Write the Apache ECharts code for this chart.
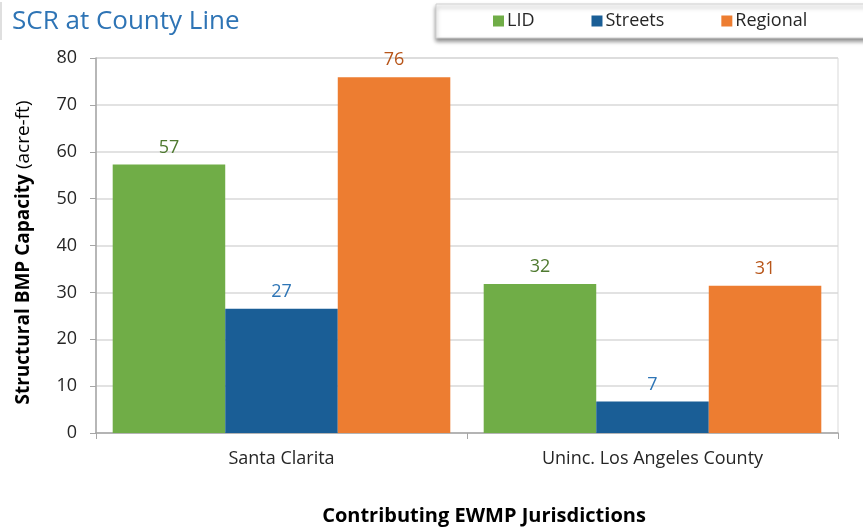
<!DOCTYPE html>
<html>
<head>
<meta charset="utf-8">
<script src="https://cdn.jsdelivr.net/npm/echarts@6/dist/echarts.min.js"></script>
<style>
  html, body { margin: 0; padding: 0; background: #fff; }
  #main { width: 863px; height: 530px; }
</style>
</head>
<body>
<div id="main"></div>
<script>
// data
var categories = ["Santa Clarita", "Uninc. Los Angeles County"];
var lidValues = [57.3, 31.8];
var streetsValues = [26.5, 6.7];
var regionalValues = [75.9, 31.4];
var yTicks = { min: 0, max: 80, interval: 10 };

var FONT = "Open Sans";

var chartDom = document.getElementById("main");
var myChart = echarts.init(chartDom);

function barSeries(name, data, color, labelColor) {
  return {
    name: name,
    type: "bar",
    data: data,
    barGap: "0%",
    barCategoryGap: "9%",
    itemStyle: { color: color },
    label: {
      show: true,
      position: "top",
      distance: 8,
      color: labelColor,
      fontFamily: FONT,
      fontSize: 18,
      formatter: function (p) { return Math.round(p.value); }
    }
  };
}

var option = {
  animation: false,
  textStyle: { fontFamily: FONT },
  title: {
    text: "SCR at County Line",
    left: 12,
    top: 9,
    padding: 0,
    textStyle: { color: "#2E74B5", fontSize: 26, fontWeight: "normal", fontFamily: FONT }
  },
  graphic: [
    {
      type: "rect",
      shape: { x: 436, y: 4, width: 440, height: 34 },
      style: {
        fill: "#fff",
        stroke: "#d0d0d0",
        lineWidth: 1,
        shadowBlur: 4,
        shadowOffsetY: 3,
        shadowColor: "rgba(0,0,0,0.45)"
      },
      z: -1
    },
    {
      type: "line",
      shape: { x1: 1, y1: 2, x2: 1, y2: 40 },
      style: { stroke: "#bfbfbf", lineWidth: 1 }
    }
  ],
  legend: {
    left: 493,
    top: 12,
    padding: 0,
    itemWidth: 11,
    itemHeight: 11,
    itemGap: 57,
    icon: "rect",
    textStyle: { color: "#262626", fontSize: 18, fontFamily: FONT, padding: [0, 0, 0, -2] },
    data: ["LID", "Streets", "Regional"]
  },
  grid: {
    left: 96, right: 25, top: 58, bottom: 97,
    outerBoundsMode: "none",
    containLabel: false,
    show: true, borderColor: "#d9d9d9", borderWidth: 1
  },
  xAxis: {
    type: "category",
    data: categories,
    name: "Contributing EWMP Jurisdictions",
    nameLocation: "middle",
    nameGap: 73,
    nameTextStyle: { color: "#000", fontSize: 20, fontWeight: "bold", fontFamily: FONT, padding: [0, 0, 0, 34] },
    axisLine: { lineStyle: { color: "#a6a6a6", width: 1.5 } },
    axisTick: { show: true, length: 6, lineStyle: { color: "#a6a6a6" } },
    axisLabel: { color: "#262626", fontSize: 18, margin: 17, fontFamily: FONT }
  },
  yAxis: {
    type: "value",
    min: yTicks.min,
    max: yTicks.max,
    interval: yTicks.interval,
    name: "{b|Structural BMP Capacity}{n|(acre-ft)}",
    nameLocation: "middle",
    nameGap: 63,
    nameRotate: 90,
    nameTextStyle: {
      padding: [0, 14, 0, 0],
      rich: {
        b: { fontSize: 19, fontWeight: "bold", color: "#000", fontFamily: FONT },
        n: { fontSize: 19, fontWeight: "normal", color: "#000", fontFamily: FONT, padding: [0, 0, 0, 5] }
      }
    },
    axisLine: { show: true, lineStyle: { color: "#a6a6a6", width: 1.5 } },
    axisTick: { show: true, length: 6, inside: false, lineStyle: { color: "#a6a6a6" } },
    axisLabel: { color: "#262626", fontSize: 18, margin: 19, fontFamily: FONT },
    splitLine: { lineStyle: { color: "#d9d9d9", width: 1.5 } }
  },
  series: [
    barSeries("LID", lidValues, "#70AD47", "#4F7A30"),
    barSeries("Streets", streetsValues, "#1A5E96", "#2E75B6"),
    barSeries("Regional", regionalValues, "#ED7D31", "#B8561A")
  ]
};

option && myChart.setOption(option);
</script>
</body>
</html>
